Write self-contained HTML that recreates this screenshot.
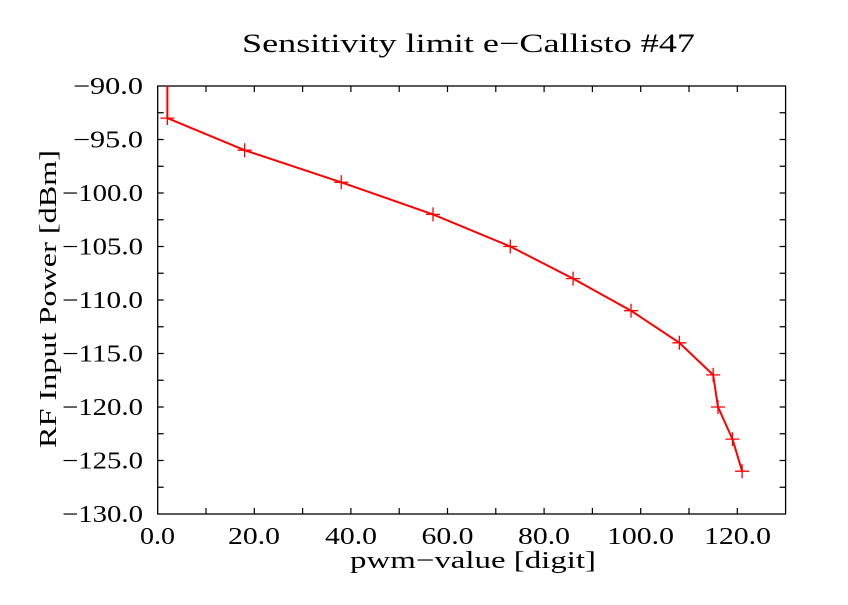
<!DOCTYPE html>
<html><head><style>html,body{margin:0;padding:0;background:#fff}</style></head>
<body>
<svg width="848" height="600" xmlns="http://www.w3.org/2000/svg" font-family="'Liberation Serif',serif">
<rect width="848" height="600" fill="#fff"/>
<rect x="157.7" y="86" width="627.9" height="428" fill="none" stroke="#000" stroke-width="1.3"/>
<path stroke="#000" stroke-width="1.2" fill="none" d="
M206 514v-6M254.3 514v-6M302.6 514v-6M350.9 514v-6M399.2 514v-6M447.5 514v-6M495.8 514v-6M544.1 514v-6M592.4 514v-6M640.7 514v-6M689 514v-6M737.3 514v-6
M206 86v6M254.3 86v6M302.6 86v6M350.9 86v6M399.2 86v6M447.5 86v6M495.8 86v6M544.1 86v6M592.4 86v6M640.7 86v6M689 86v6M737.3 86v6
M157.7 112.75h6M157.7 139.5h6M157.7 166.25h6M157.7 193h6M157.7 219.75h6M157.7 246.5h6M157.7 273.25h6M157.7 300h6M157.7 326.75h6M157.7 353.5h6M157.7 380.25h6M157.7 407h6M157.7 433.75h6M157.7 460.5h6M157.7 487.25h6
M785.6 112.75h-6M785.6 139.5h-6M785.6 166.25h-6M785.6 193h-6M785.6 219.75h-6M785.6 246.5h-6M785.6 273.25h-6M785.6 300h-6M785.6 326.75h-6M785.6 353.5h-6M785.6 380.25h-6M785.6 407h-6M785.6 433.75h-6M785.6 460.5h-6M785.6 487.25h-6"/>
<g font-size="24" lengthAdjust="spacingAndGlyphs">
<text x="140" y="544" textLength="35" lengthAdjust="spacingAndGlyphs">0.0</text>
<text x="228" y="544" textLength="52" lengthAdjust="spacingAndGlyphs">20.0</text>
<text x="325" y="544" textLength="52" lengthAdjust="spacingAndGlyphs">40.0</text>
<text x="421.5" y="544" textLength="52" lengthAdjust="spacingAndGlyphs">60.0</text>
<text x="518" y="544" textLength="52" lengthAdjust="spacingAndGlyphs">80.0</text>
<text x="607" y="544" textLength="67" lengthAdjust="spacingAndGlyphs">100.0</text>
<text x="704" y="544" textLength="67" lengthAdjust="spacingAndGlyphs">120.0</text>
</g>
<g font-size="24">
<text x="73" y="94" textLength="70" lengthAdjust="spacingAndGlyphs">−90.0</text>
<text x="73" y="147.5" textLength="70" lengthAdjust="spacingAndGlyphs">−95.0</text>
<text x="62" y="201" textLength="81" lengthAdjust="spacingAndGlyphs">−100.0</text>
<text x="62" y="254.5" textLength="81" lengthAdjust="spacingAndGlyphs">−105.0</text>
<text x="62" y="308" textLength="81" lengthAdjust="spacingAndGlyphs">−110.0</text>
<text x="62" y="361.5" textLength="81" lengthAdjust="spacingAndGlyphs">−115.0</text>
<text x="62" y="415" textLength="81" lengthAdjust="spacingAndGlyphs">−120.0</text>
<text x="62" y="468.5" textLength="81" lengthAdjust="spacingAndGlyphs">−125.0</text>
<text x="62" y="522" textLength="81" lengthAdjust="spacingAndGlyphs">−130.0</text>
</g>
<polyline fill="none" stroke="#f00" stroke-width="2" points="167.36,86 167.36,118.1 244.64,150.2 341.24,182.3 433.01,214.4 510.29,246.5 573.08,278.6 631.04,310.7 679.34,342.8 713.15,374.9 717.98,407 732.47,439.1 742.13,471.2"/>
<path fill="none" stroke="#f00" stroke-width="1.3" d="
M160.36 118.1h14M167.36 111.1v14
M237.64 150.2h14M244.64 143.2v14
M334.24 182.3h14M341.24 175.3v14
M426.01 214.4h14M433.01 207.4v14
M503.29 246.5h14M510.29 239.5v14
M566.08 278.6h14M573.08 271.6v14
M624.04 310.7h14M631.04 303.7v14
M672.34 342.8h14M679.34 335.8v14
M706.15 374.9h14M713.15 367.9v14
M710.98 407h14M717.98 400v14
M725.47 439.1h14M732.47 432.1v14
M735.13 471.2h14M742.13 464.2v14"/>
<text x="242" y="52" font-size="26" textLength="453" lengthAdjust="spacingAndGlyphs">Sensitivity limit e−Callisto #47</text>
<text x="350" y="568" font-size="24" textLength="246" lengthAdjust="spacingAndGlyphs">pwm−value [digit]</text>
<text transform="translate(56,448) rotate(-90)" font-size="24" textLength="298" lengthAdjust="spacingAndGlyphs">RF Input Power [dBm]</text>
</svg>
</body></html>
